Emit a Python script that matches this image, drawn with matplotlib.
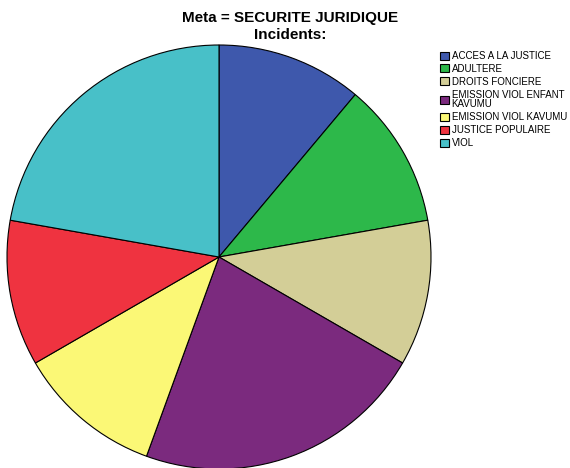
import matplotlib.pyplot as plt

plt.rcParams['font.family'] = ['Liberation Sans', 'DejaVu Sans']

categories = ['ACCES A LA JUSTICE', 'ADULTERE', 'DROITS FONCIERE',
              'EMISSION VIOL ENFANT\nKAVUMU', 'EMISSION VIOL KAVUMU',
              'JUSTICE POPULAIRE', 'VIOL']
counts = [1, 1, 1, 2, 1, 1, 2]
colors = ['#3E58AC', '#2DB84A', '#D3CE97', '#7B2A7E', '#FBF876', '#EF3340', '#48C0C8']

W, H = 570, 468
fig = plt.figure(figsize=(W / 100, H / 100), dpi=100)

# pie axes positioned in pixel terms (centre ~219,257, radius ~212)
cx, cy, r = 219, 257, 212
ax = fig.add_axes([(cx - r) / W, (H - cy - r) / H, 2 * r / W, 2 * r / H])
wedges, _ = ax.pie(counts, colors=colors, startangle=90, counterclock=False,
                   radius=1, wedgeprops=dict(edgecolor='black', linewidth=0.8))
ax.set_xlim(-1, 1)
ax.set_ylim(-1, 1)
ax.set_aspect('equal')
ax.axis('off')

fig.text(290 / W, 1 - 18 / H, 'Meta = SECURITE JURIDIQUE', ha='center', va='center',
         fontsize=11, fontweight='bold')
fig.text(290 / W, 1 - 35 / H, 'Incidents:', ha='center', va='center',
         fontsize=11, fontweight='bold')

leg = fig.legend(wedges, categories, loc='upper left', bbox_to_anchor=(436 / W, 1 - 47 / H),
                 frameon=False, fontsize=7, handlelength=0.9, handleheight=0.9,
                 handletextpad=0.3, labelspacing=0.3, borderaxespad=0)
for t in leg.get_texts():
    t.set_linespacing(0.95)

fig.savefig('out.png', dpi=100)
